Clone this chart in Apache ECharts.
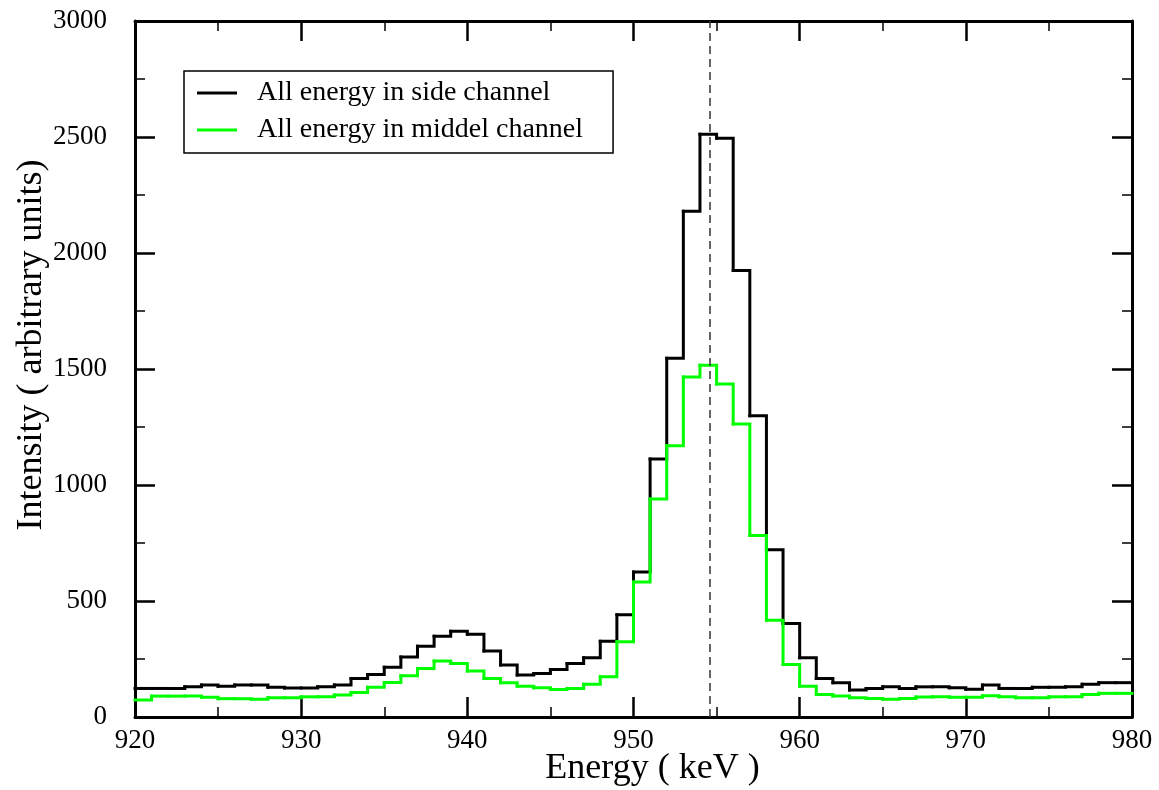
<!DOCTYPE html>
<html>
<head>
<meta charset="utf-8">
<script src="https://cdn.jsdelivr.net/npm/echarts@6/dist/echarts.min.js"></script>
<style>
    html, body { margin: 0; padding: 0; background: #fff; }
    #chart { width: 1159px; height: 790px; }
</style>
</head>
<body>
<div id="chart"></div>
<script>
    // bin edges in keV (1 keV bins)
    const energyEdges = [920, 921, 922, 923, 924, 925, 926, 927, 928, 929,
        930, 931, 932, 933, 934, 935, 936, 937, 938, 939,
        940, 941, 942, 943, 944, 945, 946, 947, 948, 949,
        950, 951, 952, 953, 954, 955, 956, 957, 958, 959,
        960, 961, 962, 963, 964, 965, 966, 967, 968, 969,
        970, 971, 972, 973, 974, 975, 976, 977, 978, 979, 980];

    // counts per bin
    const sideChannel = [123, 123, 123, 130, 138, 133, 138, 138, 128, 125,
        125, 130, 138, 166, 183, 214, 259, 305, 348, 370,
        357, 285, 224, 181, 188, 205, 231, 255, 327, 441,
        625, 1112, 1546, 2180, 2512, 2495, 1925, 1298, 721, 403,
        255, 166, 148, 116, 123, 130, 123, 130, 130, 126,
        120, 138, 123, 123, 128, 128, 130, 141, 148, 148];

    const middelChannel = [73, 90, 90, 90, 85, 79, 79, 76, 83, 83,
        87, 87, 95, 106, 128, 149, 178, 209, 241, 231,
        198, 166, 148, 133, 126, 119, 123, 141, 173, 324,
        582, 940, 1169, 1466, 1516, 1435, 1263, 782, 417, 226,
        133, 97, 90, 83, 80, 76, 80, 86, 87, 85,
        85, 92, 87, 83, 83, 87, 87, 97, 102, 102];

    const peakEnergy = 954.6;   // dashed marker

    const FONT = '"Liberation Serif", "DejaVu Serif", serif';

    // one item per bin: [left edge, right edge, count, next count]
    function toBins(values) {
        return values.map((v, i) => [
            energyEdges[i],
            energyEdges[i + 1],
            v,
            i + 1 < values.length ? values[i + 1] : v
        ]);
    }

    // horizontal top of the bin + riser to the next bin
    function stepItem(color) {
        return function (params, api) {
            const x0 = api.value(0), x1 = api.value(1);
            const y = api.value(2), yNext = api.value(3);
            return {
                type: 'polyline',
                shape: {points: [api.coord([x0, y]), api.coord([x1, y]), api.coord([x1, yNext])]},
                style: {stroke: color, lineWidth: 3, fill: null, lineCap: 'square', lineJoin: 'miter'}
            };
        };
    }

    const frameLine = {show: true, onZero: false, lineStyle: {color: '#000', width: 3}};
    const majorTick = {show: true, inside: true, length: 20, lineStyle: {color: '#000', width: 2.5}};
    const minorTick = {show: true, splitNumber: 2, length: 10, lineStyle: {color: '#000', width: 1.5}};

    const chart = echarts.init(document.getElementById('chart'));
    chart.setOption({
        animation: false,
        backgroundColor: '#fff',
        grid: {left: 135, right: 27, top: 21, bottom: 73, outerBoundsMode: 'none'},
        legend: {
            orient: 'vertical',
            left: 184,
            top: 71,
            icon: 'rect',
            itemWidth: 40,
            itemHeight: 3,
            itemGap: 7,
            padding: [7, 30, 8, 13],
            borderColor: '#000',
            borderWidth: 1.5,
            borderRadius: 0,
            textStyle: {fontFamily: FONT, fontSize: 28, color: '#000', lineHeight: 30, padding: [0, 0, 0, 15]},
            data: ['All energy in side channel', 'All energy in middel channel']
        },
        xAxis: [
            {
                type: 'value',
                position: 'bottom',
                min: 920,
                max: 980,
                interval: 10,
                name: 'Energy ( keV )',
                nameLocation: 'middle',
                nameGap: 34,
                nameMoveOverlap: false,
                nameTextStyle: {fontFamily: FONT, fontSize: 36, color: '#000', padding: [0, 0, 0, 38]},
                axisLine: frameLine,
                axisTick: majorTick,
                minorTick: minorTick,
                axisLabel: {fontFamily: FONT, fontSize: 27, color: '#000', margin: 10},
                splitLine: {show: false}
            },
            {
                type: 'value',
                position: 'top',
                min: 920,
                max: 980,
                interval: 10,
                axisLine: frameLine,
                axisTick: majorTick,
                minorTick: minorTick,
                axisLabel: {show: false},
                splitLine: {show: false}
            }
        ],
        yAxis: [
            {
                type: 'value',
                position: 'left',
                min: 0,
                max: 3000,
                interval: 500,
                name: 'Intensity ( arbitrary units)',
                nameLocation: 'middle',
                nameGap: 85,
                nameMoveOverlap: false,
                nameTextStyle: {fontFamily: FONT, fontSize: 36, color: '#000', padding: [0, 0, 0, 48]},
                axisLine: frameLine,
                axisTick: majorTick,
                minorTick: minorTick,
                axisLabel: {fontFamily: FONT, fontSize: 27, color: '#000', margin: 28,
                    formatter: v => String(v)},
                splitLine: {show: false}
            },
            {
                type: 'value',
                position: 'right',
                min: 0,
                max: 3000,
                interval: 500,
                axisLine: frameLine,
                axisTick: majorTick,
                minorTick: minorTick,
                axisLabel: {show: false},
                splitLine: {show: false}
            }
        ],
        series: [
            {
                name: 'All energy in side channel',
                type: 'custom',
                renderItem: stepItem('#000'),
                encode: {x: [0, 1], y: [2, 3]},
                data: toBins(sideChannel),
                itemStyle: {color: '#000'},
                markLine: {
                    silent: true,
                    symbol: ['none', 'none'],
                    label: {show: false},
                    lineStyle: {color: '#333', type: [8, 5], width: 1.5},
                    data: [{xAxis: peakEnergy}]
                }
            },
            {
                name: 'All energy in middel channel',
                type: 'custom',
                renderItem: stepItem('#00ff00'),
                encode: {x: [0, 1], y: [2, 3]},
                data: toBins(middelChannel),
                itemStyle: {color: '#00ff00'}
            }
        ]
    });
</script>
</body>
</html>
